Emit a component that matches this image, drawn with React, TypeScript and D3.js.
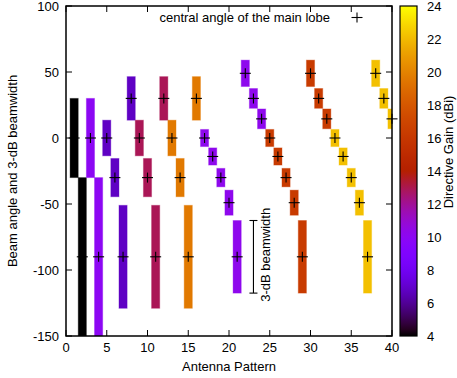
// import d3 and the react hooks we need
import * as d3 from "d3";
import { useRef, useEffect } from "react";

// antenna pattern index on the x axis
const patterns = [
  1, 2, 3, 4, 5, 6, 7, 8, 9, 10, 11, 12, 13, 14, 15, 16, 17, 18, 19, 20,
  21, 22, 23, 24, 25, 26, 27, 28, 29, 30, 31, 32, 33, 34, 35, 36, 37, 38, 39, 40,
];

// central angle of the main lobe (deg)
const centralAngles = [
  0, -90, 0, -90, 0, -30, -90, 30, 0, -30, -90, 30, 0, -30, -90, 30,
  0, -14, -30, -49, -90, 49, 30, 14.5,
  0, -14, -30, -49, -90, 49, 30, 14.5,
  0, -14, -30, -49, -90, 49, 30, 14.5,
];

// 3-dB beamwidth (deg)
const beamwidths = [
  60, 120, 60, 120, 27, 29, 78, 33, 27, 29, 78, 33, 27, 29, 78, 33,
  13, 13, 14, 19, 55, 20, 15, 15,
  13, 13, 14, 19, 55, 20, 15, 15,
  13, 13, 14, 19, 55, 20, 15, 15,
];

// directive gain (dBi)
const gains = [
  4, 4, 10, 10, 6.8, 6.8, 6.8, 6.8, 12.9, 12.9, 12.9, 12.9, 19.6, 19.6, 19.6, 19.6,
  10.2, 10.2, 10.2, 10.2, 10.2, 10.2, 10.2, 10.2,
  16.3, 16.3, 16.3, 16.3, 16.3, 16.3, 16.3, 16.3,
  22.2, 22.2, 22.2, 22.2, 22.2, 22.2, 22.2, 22.2,
];

// tick values
const xTicks = [0, 5, 10, 15, 20, 25, 30, 35, 40];
const yTicks = [-150, -100, -50, 0, 50, 100];
const cbTicks = [4, 6, 8, 10, 12, 14, 16, 18, 20, 22, 24];

// sample annotation bar for the "3-dB beamwidth" key
const keyBar = { x: 23, angle: -90, width: 55 };

// gnuplot's default pm3d palette (rgbformulae 7,5,15)
function palette(t: number) {
  const c = (v: number) => Math.round(255 * Math.max(0, Math.min(1, v)));
  const r = Math.sqrt(t);
  const g = t * t * t;
  const b = Math.sin(2 * Math.PI * t);
  return `rgb(${c(r)},${c(g)},${c(b)})`;
}

const FONT = "'Liberation Sans', Arial, Helvetica, sans-serif";

export default function App() {
  // ref for the svg
  const svgRef = useRef<SVGSVGElement>(null);

  useEffect(() => {
    const svg = d3.select(svgRef.current);
    svg.selectAll("*").remove();

    // plot frame in pixels
    const left = 66, right = 392, top = 6, bottom = 336;

    // scales
    const x = d3.scaleLinear().domain([0, 40]).range([left, right]);
    const y = d3.scaleLinear().domain([-150, 100]).range([bottom, top]);
    const gainScale = d3.scaleLinear().domain([4, 24]).range([0, 1]).clamp(true);
    const color = (g: number) => palette(gainScale(g));
    const cbY = d3.scaleLinear().domain([4, 24]).range([bottom, top]);

    // clip path for the bars
    const defs = svg.append("defs");
    defs.append("clipPath").attr("id", "plotClip")
      .append("rect").attr("x", left).attr("y", top).attr("width", right - left).attr("height", bottom - top);

    // gradient for the color box
    const grad = defs.append("linearGradient").attr("id", "cbGrad")
      .attr("x1", 0).attr("y1", 1).attr("x2", 0).attr("y2", 0);
    d3.range(0, 1.0001, 0.02).forEach(t => {
      grad.append("stop").attr("offset", t).attr("stop-color", palette(t));
    });

    // data rows
    const rows = patterns.map((p, i) => ({
      p, angle: centralAngles[i], bw: beamwidths[i], gain: gains[i],
    }));

    // beamwidth boxes coloured by gain
    const bars = svg.append("g").attr("clip-path", "url(#plotClip)");
    bars.selectAll("rect").data(rows).enter().append("rect")
      .attr("x", d => x(d.p - 0.5))
      .attr("width", d => x(d.p + 0.5) - x(d.p - 0.5))
      .attr("y", d => y(d.angle + d.bw / 2))
      .attr("height", d => y(d.angle - d.bw / 2) - y(d.angle + d.bw / 2))
      .attr("fill", d => color(d.gain))
      .attr("stroke", d => color(d.gain))
      .attr("stroke-opacity", 0.35)
      .attr("stroke-width", 1);

    // plus marks at the central angle
    const plus = (g: d3.Selection<any, any, any, any>, cx: number, cy: number) => {
      g.append("line").attr("x1", cx - 5.5).attr("x2", cx + 5.5).attr("y1", cy).attr("y2", cy);
      g.append("line").attr("x1", cx).attr("x2", cx).attr("y1", cy - 5).attr("y2", cy + 5);
    };
    const marks = svg.append("g").attr("stroke", "#000").attr("stroke-width", 1.1);
    rows.forEach(d => plus(marks, x(d.p), y(d.angle)));

    // 3-dB beamwidth key bar
    const kx = x(keyBar.x);
    const k = svg.append("g").attr("stroke", "#000").attr("stroke-width", 1.1);
    k.append("line").attr("x1", kx).attr("x2", kx)
      .attr("y1", y(keyBar.angle + keyBar.width / 2)).attr("y2", y(keyBar.angle - keyBar.width / 2));
    [keyBar.angle + keyBar.width / 2, keyBar.angle - keyBar.width / 2].forEach(v => {
      k.append("line").attr("x1", kx - 4).attr("x2", kx + 4).attr("y1", y(v)).attr("y2", y(v));
    });
    svg.append("text")
      .attr("transform", `translate(${x(25) + 0.5},${y(keyBar.angle) - 2}) rotate(-90)`)
      .attr("text-anchor", "middle")
      .style("font-family", FONT).style("font-size", "13px")
      .text("3-dB beamwidth");

    // border
    svg.append("rect").attr("x", left).attr("y", top).attr("width", right - left).attr("height", bottom - top)
      .attr("fill", "none").attr("stroke", "#000").attr("stroke-width", 1.5);

    // ticks (inward, mirrored)
    const ticks = svg.append("g").attr("stroke", "#000").attr("stroke-width", 1);
    xTicks.forEach(v => {
      ticks.append("line").attr("x1", x(v)).attr("x2", x(v)).attr("y1", bottom).attr("y2", bottom - 6);
      ticks.append("line").attr("x1", x(v)).attr("x2", x(v)).attr("y1", top).attr("y2", top + 6);
    });
    yTicks.forEach(v => {
      ticks.append("line").attr("x1", left).attr("x2", left + 6).attr("y1", y(v)).attr("y2", y(v));
      ticks.append("line").attr("x1", right).attr("x2", right - 6).attr("y1", y(v)).attr("y2", y(v));
    });

    // tick labels
    const lab = svg.append("g").style("font-family", FONT).style("font-size", "13px").attr("fill", "#000");
    xTicks.forEach(v => {
      lab.append("text").attr("x", x(v)).attr("y", bottom + 16).attr("text-anchor", "middle").text(v);
    });
    yTicks.forEach(v => {
      lab.append("text").attr("x", left - 7).attr("y", y(v) + 4.5).attr("text-anchor", "end").text(v);
    });

    // axis labels
    lab.append("text").attr("x", (left + right) / 2).attr("y", 371).attr("text-anchor", "middle").text("Antenna Pattern");
    lab.append("text").attr("transform", `translate(17,${(top + bottom) / 2}) rotate(-90)`)
      .attr("text-anchor", "middle").text("Beam angle and 3-dB beamwidth");

    // legend
    lab.append("text").attr("x", 330).attr("y", 22).attr("text-anchor", "end").text("central angle of the main lobe");
    plus(marks, 357, 17.5);

    // colour box
    const cbL = 400, cbR = 417;
    svg.append("rect").attr("x", cbL).attr("y", top).attr("width", cbR - cbL).attr("height", bottom - top)
      .attr("fill", "url(#cbGrad)").attr("stroke", "#000").attr("stroke-width", 1.2);
    cbTicks.forEach(v => {
      if (v !== 4 && v !== 24) {
        ticks.append("line").attr("x1", cbL).attr("x2", cbL + 5).attr("y1", cbY(v)).attr("y2", cbY(v));
        ticks.append("line").attr("x1", cbR - 5).attr("x2", cbR).attr("y1", cbY(v)).attr("y2", cbY(v));
      }
      lab.append("text").attr("x", 427).attr("y", cbY(v) + 4.5).text(v);
    });
    lab.append("text").attr("transform", `translate(453,152) rotate(-90)`)
      .attr("text-anchor", "middle").text("Directive Gain (dBi)");
  }, []);

  return (
    <svg ref={svgRef} width={457} height={378}
      style={{ position: "absolute", left: 0, top: 0, background: "#fff" }} />
  );
}
